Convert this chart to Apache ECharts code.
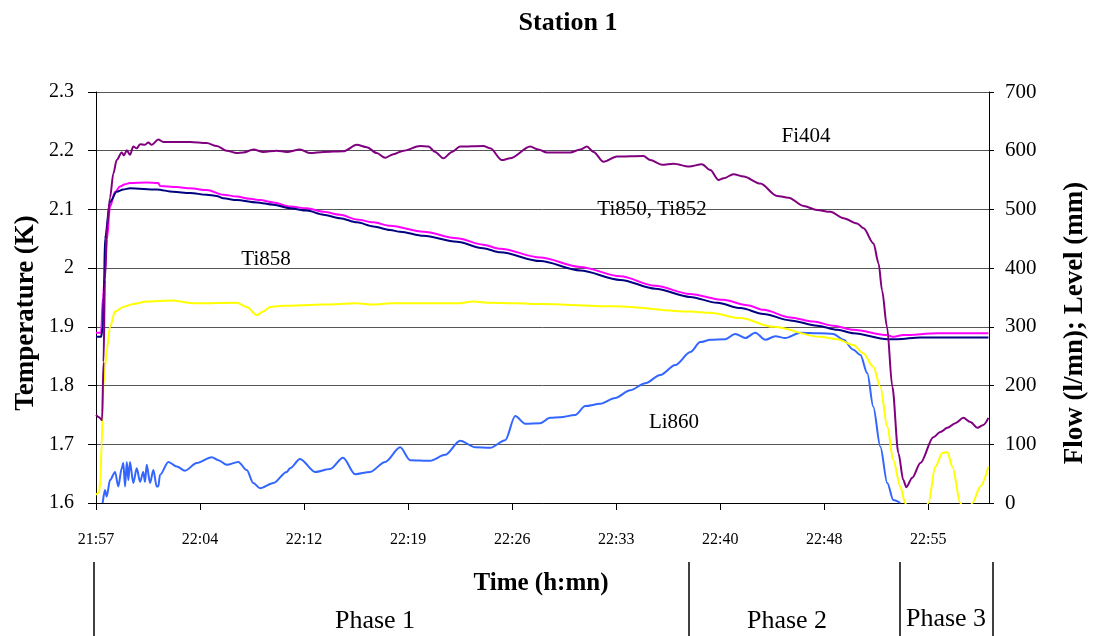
<!DOCTYPE html>
<html>
<head>
<meta charset="utf-8">
<script src="https://cdn.jsdelivr.net/npm/echarts@6/dist/echarts.min.js"></script>
<style>
html,body{margin:0;padding:0;background:#fff;}
#chart{width:1093px;height:636px;}
</style>
</head>
<body>
<div id="chart"></div>
<script>
// ---- tick labels ----
const xTickLabels = ['21:57','22:04','22:12','22:19','22:26','22:33','22:40','22:48','22:55'];
const tempTickLabels = ['1.6','1.7','1.8','1.9','2','2.1','2.2','2.3'];
const flowTickLabels = ['0','100','200','300','400','500','600','700'];

// ---- series (time in minutes from the 21:57 tick) ----
const fi404Time = [0,0.21,0.42,0.52,0.62,0.76,0.97,1.2,1.43,1.78,1.94,2.13,2.35,2.58,2.82,3.05,3.39,3.62,3.86,4.31,4.66,5.59,6.51,7.66,8.36,9.05,9.74,10.2,10.89,11.58,12.51,13.2,14.12,14.82,15.74,17.12,18.05,18.74,19.43,20.01,20.58,21.28,22.43,23.01,23.47,24.04,24.63,25.2,26.81,27.28,28.09,28.66,30.05,30.62,31.2,32.82,33.51,33.97,34.43,35.12,36.05,37.89,38.35,39.17,39.97,41.05,41.93,42.51,43.08,43.43,44.12,44.82,45.97,47.13,47.93,48.97,49.9,50.82,51.74,52.67,53.12,53.81,54.16,54.4,54.74,55.11,55.53,55.87,56.08,56.49,57.05,57.95,58.43,58.92,59.47,60.03,60.51,61.0,61.41,61.76];
const fi404Flow = [150,146,141,240,380,470,520,561,584,597,592,601,593,607,604,611,610,614,610,619,615,615,615,613,608,600,596,597,602,598,600,598,602,596,598,599,610,606,596,588,594,600,608,607,598,587,598,607,608,604,584,587,607,602,597,597,602,607,598,581,590,591,584,576,578,573,577,567,550,553,560,556,544,523,520,506,499,496,485,476,468,442,408,362,300,198,85,39,27,43,68,112,121,128,136,145,138,128,133,145];

const ti850Time = [0,0.35,0.48,0.62,0.76,0.97,1.32,1.66,2.01,2.35,3.51,4.31,4.43,5.59,6.51,7.66,8.81,9.74,10.66,11.35,12.28,13.43,14.59,15.74,16.89,18.05,19.2,20.35,22.66,24.97,26.79,27.97,30.74,33.51,36.28,38.7,41.1,43.41,45.07,46.18,48.05,49.65,51.03,52.42,54.77,55.11,55.87,58.22,61.76];
const ti850Temp = [1.890,1.890,1.950,1.990,2.050,2.105,2.130,2.139,2.143,2.145,2.146,2.145,2.140,2.138,2.136,2.133,2.125,2.122,2.118,2.116,2.112,2.105,2.102,2.096,2.091,2.083,2.078,2.072,2.062,2.051,2.040,2.033,2.018,2.002,1.986,1.970,1.956,1.946,1.937,1.929,1.916,1.909,1.902,1.895,1.886,1.883,1.886,1.889,1.889];

const ti852Time = [0,0.35,0.48,0.55,0.62,0.97,1.43,1.89,2.35,4.2,5.35,6.51,7.66,8.35,8.81,9.74,11.12,12.28,13.43,14.59,15.74,16.89,18.05,19.2,20.35,21.05,22.66,24.97,26.79,27.97,30.74,33.51,36.28,38.7,41.1,43.0,44.6,46.18,48.05,49.92,51.31,52.42,54.77,55.46,57.05,61.76];
const ti852Temp = [1.883,1.883,1.900,1.960,2.050,2.113,2.130,2.134,2.136,2.134,2.130,2.128,2.125,2.123,2.119,2.116,2.112,2.108,2.102,2.098,2.091,2.085,2.078,2.071,2.065,2.062,2.055,2.045,2.034,2.027,2.012,1.996,1.980,1.965,1.951,1.941,1.932,1.922,1.911,1.902,1.895,1.889,1.879,1.879,1.882,1.882];

const ti858Time = [0,0.21,0.31,0.39,0.46,0.51,0.62,0.74,0.97,1.32,1.89,2.58,3.51,5.12,6.97,9.74,10.43,11.13,11.56,12.05,12.97,15.74,18.05,19.2,20.35,24.97,26.12,27.28,29.13,30.74,35.93,41.1,42.51,44.59,46.87,50.12,51.3,52.41,53.1,53.79,54.28,54.76,55.18,55.66,56.0,56.49,57.05,57.6,58.09,58.57,58.92,59.26,59.82,60.23,60.65,61.2,61.76];
const ti858Temp = [1.614,1.618,1.640,1.700,1.750,1.800,1.830,1.860,1.900,1.926,1.934,1.939,1.943,1.945,1.940,1.941,1.934,1.920,1.926,1.934,1.936,1.938,1.940,1.938,1.940,1.940,1.943,1.941,1.940,1.939,1.935,1.926,1.924,1.915,1.900,1.883,1.879,1.869,1.855,1.832,1.798,1.730,1.673,1.628,1.600,1.565,1.560,1.600,1.662,1.685,1.687,1.662,1.600,1.575,1.600,1.628,1.662];

const li860Time = [0.46,0.62,0.74,0.97,1.32,1.54,1.78,1.89,2.01,2.13,2.24,2.35,2.58,2.82,3.05,3.27,3.39,3.51,3.74,3.97,4.2,4.31,4.43,5.01,5.59,6.16,6.97,8.01,8.47,9.05,9.85,10.43,10.89,11.35,12.28,13.2,13.43,14.12,15.16,16.2,17.1,17.93,18.97,20.01,21.05,21.74,23.12,24.16,25.2,26.24,27.28,28.32,29.01,29.7,30.74,31.43,32.12,33.16,33.86,34.89,35.93,36.97,38.01,39.05,40.09,41.13,41.82,42.52,43.55,44.24,44.94,45.63,46.32,47.01,47.7,48.74,50.12,51.02,51.72,52.41,52.9,53.38,53.79,54.28,54.76,55.18,55.66];
const li860Level = [0,22,11,39,53,28,59,68,28,70,39,70,34,59,36,53,36,65,34,56,28,28,48,70,62,55,68,78,73,65,70,56,34,25,34,53,59,75,53,58,77,49,53,70,95,73,72,82,106,95,94,107,148,135,136,145,146,150,165,169,179,192,204,218,235,257,274,278,279,288,281,290,278,284,281,290,289,288,278,261,252,221,164,96,34,5,0];

const tickStep = 7.2;
const axisEnd = 61.8;

function pairs(xs, ys){ const n=Math.min(xs.length, ys.length); const out=[]; for(let i=0;i<n;i++) out.push([xs[i], ys[i]]); return out; }

const serif = '"Liberation Serif","Times New Roman",serif';
const chart = echarts.init(document.getElementById('chart'), null, {renderer:'canvas'});

function mkSeries(name, data, color, yIdx){
  return { name, type:'line', data, yAxisIndex:yIdx, showSymbol:false, symbol:'none',
    smooth:0.3, smoothMonotone:'x', clip:true, animation:false,
    lineStyle:{color, width:2}, itemStyle:{color} };
}

function txt(text, x, y, size, bold, rot){
  const o = { type:'text', x, y, silent:true, z:100,
    style:{ text, x:0, y:0, fill:'#000', font:(bold?'bold ':'')+size+'px '+serif,
      align:'center', verticalAlign:'middle', textAlign:'center', textVerticalAlign:'middle' } };
  if (rot) o.rotation = rot;
  return o;
}
function vline(x, y1, y2){
  return { type:'line', silent:true, shape:{x1:x, y1:y1, x2:x, y2:y2}, style:{stroke:'#000', lineWidth:1.5} };
}

const xTickValues = xTickLabels.map((_, i) => +(i*tickStep).toFixed(2));

chart.setOption({
  backgroundColor:'#fff',
  animation:false,
  grid:{ left:96, right:104, top:92, bottom:133, containLabel:false },
  xAxis:{
    type:'value', min:0, max:axisEnd, interval:tickStep,
    axisLine:{ show:true, lineStyle:{color:'#000', width:1} },
    axisTick:{ show:true, inside:false, length:7, lineStyle:{color:'#000'}, customValues:xTickValues },
    splitLine:{ show:false },
    axisLabel:{ color:'#000', fontFamily:serif, fontSize:16, margin:29, customValues:xTickValues,
      formatter: v => { const i=Math.round(v/tickStep); return (Math.abs(v-i*tickStep)<0.01 && i<xTickLabels.length) ? xTickLabels[i] : ''; } }
  },
  yAxis:[
    { type:'value', min:1.6, max:2.3, interval:0.1, position:'left',
      axisLine:{ show:true, lineStyle:{color:'#000', width:1} },
      axisTick:{ show:true, length:8, lineStyle:{color:'#000'} },
      splitLine:{ show:true, lineStyle:{color:'#555', width:1} },
      axisLabel:{ color:'#000', fontFamily:serif, fontSize:20, margin:22,
        formatter: v => { const i=Math.round((v-1.6)/0.1); return tempTickLabels[i] ?? ''; } } },
    { type:'value', min:0, max:700, interval:100, position:'right',
      axisLine:{ show:true, lineStyle:{color:'#000', width:1} },
      axisTick:{ show:true, length:5, lineStyle:{color:'#000'} },
      splitLine:{ show:false },
      axisLabel:{ color:'#000', fontFamily:serif, fontSize:21, margin:16,
        formatter: v => { const i=Math.round(v/100); return flowTickLabels[i] ?? ''; } } }
  ],
  series:[
    mkSeries('Li860', pairs(li860Time, li860Level), '#3366FF', 1),
    mkSeries('Ti858', pairs(ti858Time, ti858Temp), '#FFFF00', 0),
    mkSeries('Ti850', pairs(ti850Time, ti850Temp), '#FF00FF', 0),
    mkSeries('Ti852', pairs(ti852Time, ti852Temp), '#000080', 0),
    mkSeries('Fi404', pairs(fi404Time, fi404Flow), '#800080', 1)
  ],
  graphic:[
    txt('Station 1', 568, 23, 26, true),
    txt('Temperature (K)', 26, 313, 27, true, Math.PI/2),
    txt('Flow (l/mn); Level (mm)', 1075, 323, 27, true, Math.PI/2),
    txt('Time (h:mn)', 541, 584, 25, true),
    txt('Fi404', 806, 136, 21, false),
    txt('Ti850, Ti852', 652, 209, 21, false),
    txt('Ti858', 266, 259, 21, false),
    txt('Li860', 674, 422, 21, false),
    txt('Phase 1', 375, 621, 26, false),
    txt('Phase 2', 787, 621, 26, false),
    txt('Phase 3', 946, 619, 26, false),
    vline(94, 562, 636), vline(689, 562, 636), vline(900, 562, 636), vline(993, 562, 636)
  ]
});
</script>
</body>
</html>
